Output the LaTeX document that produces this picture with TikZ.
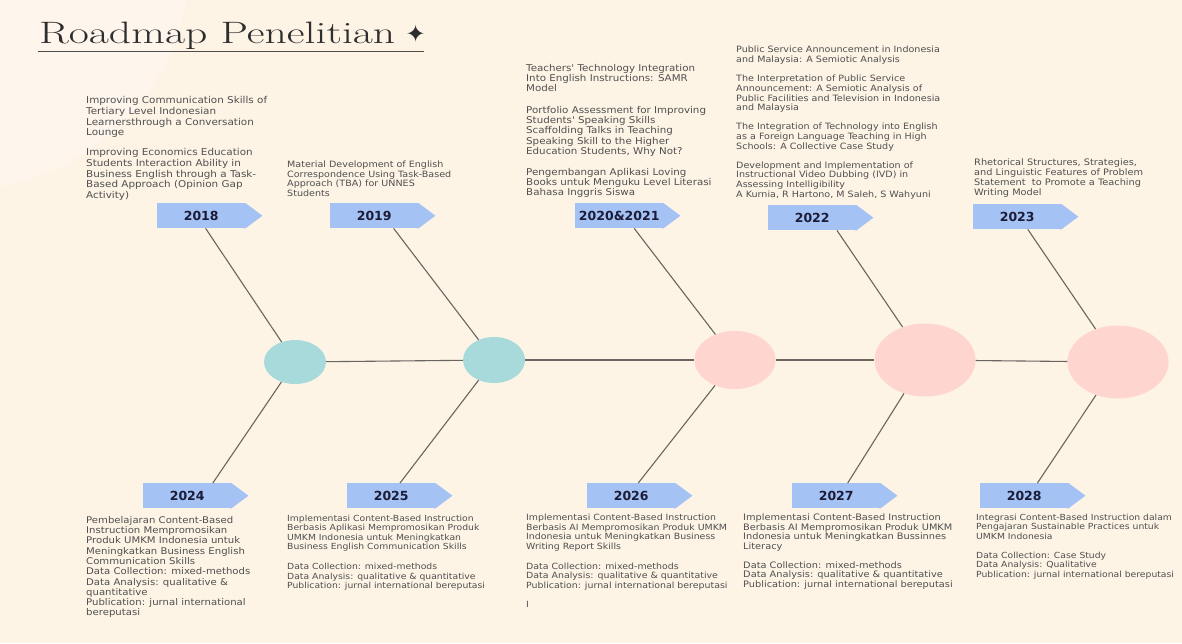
\documentclass[tikz,border=0pt]{standalone}
\usepackage{fontspec}
\usetikzlibrary{shapes.geometric,calc}
\newfontfamily\bodyfont{DejaVu Sans}[FakeStretch=1.1]
\newfontfamily\yearfont{DejaVu Sans}
\newfontfamily\symfont{DejaVu Sans}
\definecolor{cbg}{HTML}{FDF4E6}
\definecolor{cbglight}{HTML}{FEF6EC}
\definecolor{cteal}{HTML}{A8DADC}
\definecolor{cpink}{HTML}{FFD5D0}
\definecolor{ctag}{HTML}{A4C2F4}
\definecolor{ctext}{HTML}{4F4F4F}
\definecolor{cyear}{HTML}{1C1C38}
\definecolor{cline}{HTML}{6A655F}
\definecolor{ctitle}{HTML}{2E2E2E}
\tikzset{
  yeartag/.style={fill=ctag, minimum width=88, minimum height=25, inner sep=0,
    anchor=north west, text=cyear, font=\yearfont\bfseries\fontsize{12.5}{12.5}\selectfont},
  hub/.style={ellipse, inner sep=0, draw=none},
  conn/.style={draw=cline, line width=1.1},
  txt/.style={anchor=north west, inner sep=0, align=left, text=ctext},
}
\newcommand{\tagtip}[1]{\fill[ctag] ($(#1.north east)+(-1.5,0)$) -- (#1.north east) -- ($(#1.east)+(17,0)$) -- (#1.south east) -- ($(#1.south east)+(-1.5,0)$) -- cycle;}
\begin{document}
\begin{tikzpicture}[x=1pt,y=-1pt]
\useasboundingbox (0,0) rectangle (1182,643);
\fill[cbg] (0,0) rectangle (1182,643);
\begin{scope}
\clip (0,0) rectangle (1182,643);
\fill[cbglight] (-40,-40) circle[radius=230];
\end{scope}

% title
\node[anchor=base west, inner sep=0, text=ctitle] (title) at (39,43)
  {\resizebox{356pt}{21.5pt}{\fontsize{30}{30}\selectfont Roadmap Penelitian}};
\node[anchor=base west, inner sep=0, text=ctitle, font=\symfont\fontsize{24}{24}\selectfont] (star)
  at ($(title.base east)+(10,-1)$) {✦};
\coordinate (ulA) at (38,51);
\coordinate (ulB) at (424,51);
\draw[ctitle!85, line width=0.7] (ulA) -- (ulB);

% hubs
\node[hub, fill=cteal, minimum width=62, minimum height=44] (c1) at (295,362) {};
\node[hub, fill=cteal, minimum width=62, minimum height=46] (c2) at (494,360) {};
\node[hub, fill=cpink, minimum width=81, minimum height=58] (c3) at (735,360) {};
\node[hub, fill=cpink, minimum width=101, minimum height=73] (c4) at (925,360) {};
\node[hub, fill=cpink, minimum width=101, minimum height=73] (c5) at (1118,362) {};

% tags
\node[yeartag] (t18) at (157,203) {2018}; \tagtip{t18}
\node[yeartag] (t19) at (330,203) {2019}; \tagtip{t19}
\node[yeartag] (t20) at (575,203) {2020\&2021}; \tagtip{t20}
\node[yeartag] (t22) at (768,205) {2022}; \tagtip{t22}
\node[yeartag] (t23) at (973,204) {2023}; \tagtip{t23}
\node[yeartag] (t24) at (143,483) {2024}; \tagtip{t24}
\node[yeartag] (t25) at (347,483) {2025}; \tagtip{t25}
\node[yeartag] (t26) at (587,483) {2026}; \tagtip{t26}
\node[yeartag] (t27) at (792,483) {2027}; \tagtip{t27}
\node[yeartag] (t28) at (980,483) {2028}; \tagtip{t28}

% spine
\draw[conn] (c1) -- (c2);
\draw[conn] (c2) -- (c3);
\draw[conn] (c3) -- (c4);
\draw[conn] (c4) -- (c5);

% branches
\draw[conn] ($(t18.south west)!0.55!(t18.south east)$) -- (c1);
\draw[conn] ($(t19.south west)!0.72!(t19.south east)$) -- (c2);
\draw[conn] ($(t20.south west)!0.67!(t20.south east)$) -- (c3);
\draw[conn] ($(t22.south west)!0.78!(t22.south east)$) -- (c4);
\draw[conn] ($(t23.south west)!0.62!(t23.south east)$) -- (c5);
\draw[conn] (c1) -- ($(t24.north west)!0.79!(t24.north east)$);
\draw[conn] (c2) -- ($(t25.north west)!0.60!(t25.north east)$);
\draw[conn] (c3) -- ($(t26.north west)!0.58!(t26.north east)$);
\draw[conn] (c4) -- ($(t27.north west)!0.63!(t27.north east)$);
\draw[conn] (c5) -- ($(t28.north west)!0.65!(t28.north east)$);

% top texts
\node[txt, font=\bodyfont\fontsize{9.45}{10.7}\selectfont] (x18) at (86,96.5) {%
Improving Communication Skills of\\
Tertiary Level Indonesian\\
Learnersthrough a Conversation\\
Lounge\\[9pt]
Improving Economics Education\\
Students Interaction Ability in\\
Business English through a Task-\\
Based Approach (Opinion Gap\\
Activity)};

\node[txt, font=\bodyfont\fontsize{8.7}{9.4}\selectfont] (x19) at (287,161) {%
Material Development of English\\
Correspondence Using Task-Based\\
Approach (TBA) for UNNES\\
Students};

\node[txt, font=\bodyfont\fontsize{9.35}{10.3}\selectfont] (x20) at (526,64) {%
Teachers' Technology Integration\\
Into English Instructions: SAMR\\
Model\\[11pt]
Portfolio Assessment for Improving\\
Students' Speaking Skills\\
Scaffolding Talks in Teaching\\
Speaking Skill to the Higher\\
Education Students, Why Not?\\[10.5pt]
Pengembangan Aplikasi Loving\\
Books untuk Menguku Level Literasi\\
Bahasa Inggris Siswa};

\node[txt, font=\bodyfont\fontsize{8.7}{9.8}\selectfont] (x22) at (736,46) {%
Public Service Announcement in Indonesia\\
and Malaysia: A Semiotic Analysis\\[9pt]
The Interpretation of Public Service\\
Announcement: A Semiotic Analysis of\\
Public Facilities and Television in Indonesia\\
and Malaysia\\[9pt]
The Integration of Technology into English\\
as a Foreign Language Teaching in High\\
Schools: A Collective Case Study\\[9pt]
Development and Implementation of\\
Instructional Video Dubbing (IVD) in\\
Assessing Intelligibility\\
A Kurnia, R Hartono, M Saleh, S Wahyuni};

\node[txt, font=\bodyfont\fontsize{8.9}{10}\selectfont] (x23) at (974,159) {%
Rhetorical Structures, Strategies,\\
and Linguistic Features of Problem\\
Statement\ \ to Promote a Teaching\\
Writing Model};

% bottom texts
\node[txt, font=\bodyfont\fontsize{9.2}{10.3}\selectfont] (x24) at (86,516) {%
Pembelajaran Content-Based\\
Instruction Mempromosikan\\
Produk UMKM Indonesia untuk\\
Meningkatkan Business English\\
Communication Skills\\
Data Collection: mixed-methods\\
Data Analysis: qualitative \&\\
quantitative\\
Publication: jurnal international\\
bereputasi};

\node[txt, font=\bodyfont\fontsize{8.4}{9.4}\selectfont] (x25) at (287,515) {%
Implementasi Content-Based Instruction\\
Berbasis Aplikasi Mempromosikan Produk\\
UMKM Indonesia untuk Meningkatkan\\
Business English Communication Skills\\[10.5pt]
Data Collection: mixed-methods\\
Data Analysis: qualitative \& quantitative\\
Publication: jurnal international bereputasi};

\node[txt, font=\bodyfont\fontsize{8.55}{9.5}\selectfont] (x26) at (526,514) {%
Implementasi Content-Based Instruction\\
Berbasis AI Mempromosikan Produk UMKM\\
Indonesia untuk Meningkatkan Business\\
Writing Report Skills\\[10.5pt]
Data Collection: mixed-methods\\
Data Analysis: qualitative \& quantitative\\
Publication: jurnal international bereputasi\\[9.5pt]
I};

\node[txt, font=\bodyfont\fontsize{8.9}{9.5}\selectfont] (x27) at (743,514) {%
Implementasi Content-Based Instruction\\
Berbasis AI Mempromosikan Produk UMKM\\
Indonesia untuk Meningkatkan Bussinnes\\
Literacy\\[9.5pt]
Data Collection: mixed-methods\\
Data Analysis: qualitative \& quantitative\\
Publication: jurnal international bereputasi};

\node[txt, font=\bodyfont\fontsize{8.4}{9.3}\selectfont] (x28) at (976,514) {%
Integrasi Content-Based Instruction dalam\\
Pengajaran Sustainable Practices untuk\\
UMKM Indonesia\\[10pt]
Data Collection: Case Study\\
Data Analysis: Qualitative\\
Publication: jurnal international bereputasi};
\end{tikzpicture}
\end{document}
